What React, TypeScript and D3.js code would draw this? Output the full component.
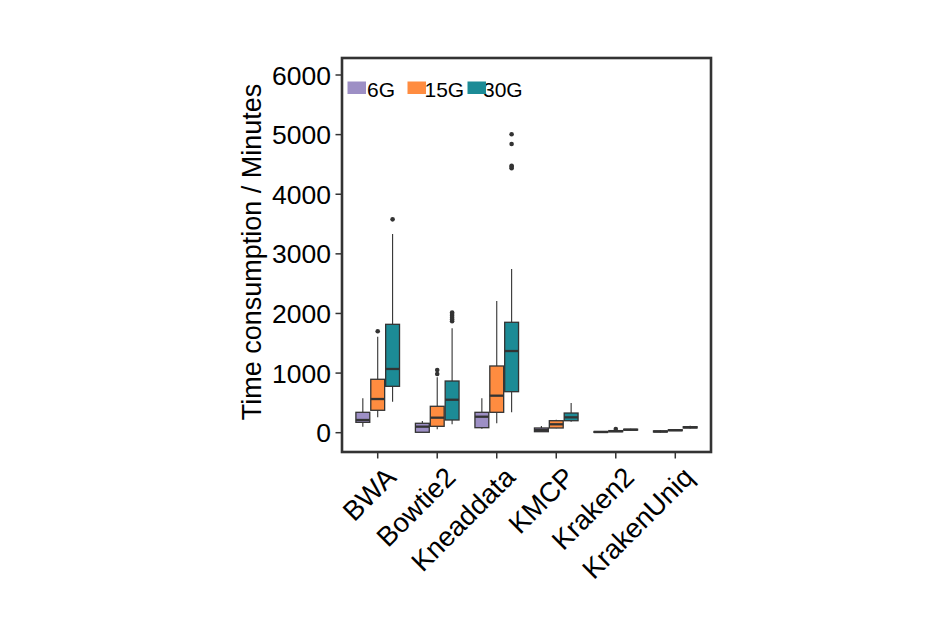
import React from "react";
import * as d3 from "d3";

const categories = ["BWA", "Bowtie2", "Kneaddata", "KMCP", "Kraken2", "KrakenUniq"];
const groups = ["6G", "15G", "30G"];
const colors = ["#9D8FC5", "#FF8C40", "#1C8B96"];
const yTicks = [0, 1000, 2000, 3000, 4000, 5000, 6000];

// per category: [6G, 15G, 30G]
const lowerWhisker = [
  [101, 258, 520],
  [7, 57, 141],
  [67, 158, 342],
  [10, 74, 185],
  [0, 10, 38],
  [5, 28, 70],
];
const q1 = [
  [174, 376, 778],
  [7, 107, 213],
  [84, 342, 688],
  [17, 79, 201],
  [5, 17, 44],
  [12, 34, 80],
];
const median = [
  [213, 565, 1069],
  [101, 252, 553],
  [268, 621, 1370],
  [45, 141, 258],
  [12, 25, 50],
  [20, 42, 90],
];
const q3 = [
  [342, 896, 1818],
  [158, 443, 867],
  [342, 1119, 1852],
  [79, 201, 330],
  [20, 35, 58],
  [30, 50, 100],
];
const upperWhisker = [
  [577, 1610, 3333],
  [196, 929, 1751],
  [577, 2209, 2746],
  [112, 218, 498],
  [30, 48, 68],
  [42, 62, 117],
];
const outliers = [
  [[], [1701], [3579]],
  [[], [985, 1052], [1870, 1900, 1930, 1960, 1990, 2015]],
  [[], [], [4435, 4460, 4478, 4842, 5005]],
  [[], [], []],
  [[], [62], []],
  [[], [], []],
];

const W = 951;
const H = 627;
const frame = { left: 342, right: 711, top: 58, bottom: 452 };
const FONT = "'Liberation Sans', Arial, sans-serif";
const DARK = "#333333";

export default function App() {
  const x = d3
    .scalePoint<string>()
    .domain(categories)
    .range([frame.left, frame.right])
    .padding(0.6);
  const step = x.step();
  const y = d3.scaleLinear().domain([0, 6000]).range([432.7, 75]);
  const dodge = step * 0.25;
  const boxW = step * 0.233;

  const boxes: React.ReactNode[] = [];
  categories.forEach((cat, ci) => {
    groups.forEach((g, gi) => {
      const cx = (x(cat) as number) + (gi - 1) * dodge;
      const yq1 = y(q1[ci][gi]);
      const yq3 = y(q3[ci][gi]);
      const ymed = y(median[ci][gi]);
      boxes.push(
        <g key={`${cat}-${g}`}>
          <line x1={cx} x2={cx} y1={y(upperWhisker[ci][gi])} y2={yq3} stroke={DARK} strokeWidth={1.1} />
          <line x1={cx} x2={cx} y1={yq1} y2={y(lowerWhisker[ci][gi])} stroke={DARK} strokeWidth={1.1} />
          <rect
            x={cx - boxW / 2}
            y={yq3}
            width={boxW}
            height={Math.max(yq1 - yq3, 0.5)}
            fill={colors[gi]}
            stroke={DARK}
            strokeWidth={1.3}
          />
          <line x1={cx - boxW / 2} x2={cx + boxW / 2} y1={ymed} y2={ymed} stroke={DARK} strokeWidth={2.3} />
          {outliers[ci][gi].map((v, oi) => (
            <circle key={oi} cx={cx} cy={y(v)} r={2.3} fill={DARK} />
          ))}
        </g>
      );
    });
  });

  return (
    <svg width={W} height={H} style={{ position: "absolute", left: 0, top: 0 }}>
      <rect width={W} height={H} fill="#ffffff" />
      {boxes}
      <rect
        x={frame.left}
        y={frame.top}
        width={frame.right - frame.left}
        height={frame.bottom - frame.top}
        fill="none"
        stroke={DARK}
        strokeWidth={2.6}
      />
      {yTicks.map((t) => (
        <g key={t}>
          <line x1={frame.left - 6.5} x2={frame.left} y1={y(t)} y2={y(t)} stroke={DARK} strokeWidth={1.5} />
          <text
            x={frame.left - 11}
            y={y(t)}
            dy="0.36em"
            textAnchor="end"
            fontFamily={FONT}
            fontSize={26.5}
            fill="#000"
          >
            {t}
          </text>
        </g>
      ))}
      {categories.map((c) => (
        <g key={c}>
          <line
            x1={x(c) as number}
            x2={x(c) as number}
            y1={frame.bottom}
            y2={frame.bottom + 6.5}
            stroke={DARK}
            strokeWidth={1.5}
          />
          <text
            transform={`translate(${(x(c) as number) + 6},${frame.bottom + 13}) rotate(-45)`}
            dy="0.72em"
            textAnchor="end"
            fontFamily={FONT}
            fontSize={27.5}
            fill="#000"
          >
            {c}
          </text>
        </g>
      ))}
      <text
        transform={`translate(261,${(frame.top + frame.bottom) / 2 - 3}) rotate(-90)`}
        textAnchor="middle"
        fontFamily={FONT}
        fontSize={27}
        fill="#000"
      >
        Time consumption / Minutes
      </text>
      {groups.map((g, gi) => (
        <text
          key={`lt-${g}`}
          x={frame.left + 25 + gi * 58.5 - (gi > 0 ? 1 : 0)}
          y={97}
          fontFamily={FONT}
          fontSize={21}
          fill="#000"
        >
          {g}
        </text>
      ))}
      {groups.map((g, gi) => (
        <rect
          key={`lk-${g}`}
          x={frame.left + 5.5 + gi * 60}
          y={81.5}
          width={18.5}
          height={12.5}
          fill={colors[gi]}
        />
      ))}
    </svg>
  );
}
